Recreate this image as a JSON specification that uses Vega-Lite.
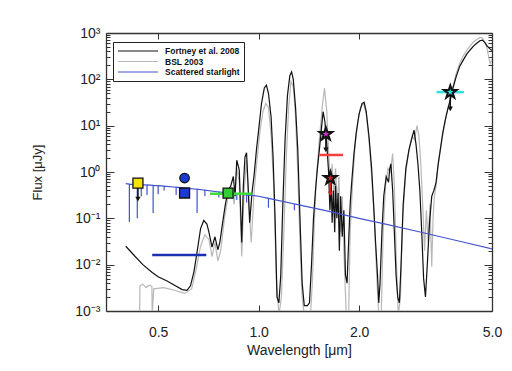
{
  "$schema": "https://vega.github.io/schema/vega-lite/v6.json",
  "width": 386,
  "height": 278,
  "autosize": {"type": "none"},
  "padding": {"left": 106, "top": 33, "right": 20, "bottom": 60},
  "background": "white",
  "config": {
    "font": "Liberation Sans",
    "view": {"stroke": null},
    "axis": {"domainColor": "#333333", "tickColor": "#333333", "labelColor": "#222222", "titleColor": "#222222", "grid": false, "domainWidth": 1.3, "tickWidth": 1, "labelFlush": false, "labelOverlap": false}
  },
  "datasets": {
    "lines": [
      {"s": "BSL 2003", "x": 0.440, "y": 0.0008}, {"s": "BSL 2003", "x": 0.441, "y": 0.0035}, {"s": "BSL 2003", "x": 0.45, "y": 0.0038}, {"s": "BSL 2003", "x": 0.46, "y": 0.0032}, {"s": "BSL 2003", "x": 0.47, "y": 0.0036}, {"s": "BSL 2003", "x": 0.479, "y": 0.0034}, {"s": "BSL 2003", "x": 0.48, "y": 0.0008}, {"s": "BSL 2003", "x": 0.485, "y": 0.003},
      {"s": "BSL 2003", "x": 0.52, "y": 0.0032}, {"s": "BSL 2003", "x": 0.56, "y": 0.0028}, {"s": "BSL 2003", "x": 0.60, "y": 0.0024}, {"s": "BSL 2003", "x": 0.63, "y": 0.003}, {"s": "BSL 2003", "x": 0.65, "y": 0.008}, {"s": "BSL 2003", "x": 0.67, "y": 0.025}, {"s": "BSL 2003", "x": 0.69, "y": 0.044}, {"s": "BSL 2003", "x": 0.71, "y": 0.035}, {"s": "BSL 2003", "x": 0.725, "y": 0.015}, {"s": "BSL 2003", "x": 0.74, "y": 0.03}, {"s": "BSL 2003", "x": 0.755, "y": 0.012}, {"s": "BSL 2003", "x": 0.77, "y": 0.02}, {"s": "BSL 2003", "x": 0.79, "y": 0.1}, {"s": "BSL 2003", "x": 0.81, "y": 0.3}, {"s": "BSL 2003", "x": 0.83, "y": 0.45}, {"s": "BSL 2003", "x": 0.845, "y": 0.2}, {"s": "BSL 2003", "x": 0.86, "y": 1.2}, {"s": "BSL 2003", "x": 0.875, "y": 0.6}, {"s": "BSL 2003", "x": 0.89, "y": 0.015}, {"s": "BSL 2003", "x": 0.905, "y": 0.4}, {"s": "BSL 2003", "x": 0.92, "y": 1.8}, {"s": "BSL 2003", "x": 0.935, "y": 0.2}, {"s": "BSL 2003", "x": 0.95, "y": 0.03}, {"s": "BSL 2003", "x": 0.97, "y": 0.4}, {"s": "BSL 2003", "x": 0.99, "y": 2},
      {"s": "BSL 2003", "x": 1.01, "y": 8}, {"s": "BSL 2003", "x": 1.03, "y": 20}, {"s": "BSL 2003", "x": 1.05, "y": 30}, {"s": "BSL 2003", "x": 1.07, "y": 25}, {"s": "BSL 2003", "x": 1.09, "y": 6}, {"s": "BSL 2003", "x": 1.11, "y": 0.5}, {"s": "BSL 2003", "x": 1.13, "y": 0.005}, {"s": "BSL 2003", "x": 1.15, "y": 0.0008}, {"s": "BSL 2003", "x": 1.17, "y": 0.002}, {"s": "BSL 2003", "x": 1.19, "y": 0.05}, {"s": "BSL 2003", "x": 1.21, "y": 2}, {"s": "BSL 2003", "x": 1.23, "y": 25}, {"s": "BSL 2003", "x": 1.25, "y": 90}, {"s": "BSL 2003", "x": 1.27, "y": 70}, {"s": "BSL 2003", "x": 1.29, "y": 15}, {"s": "BSL 2003", "x": 1.31, "y": 1}, {"s": "BSL 2003", "x": 1.33, "y": 0.03}, {"s": "BSL 2003", "x": 1.35, "y": 0.002}, {"s": "BSL 2003", "x": 1.37, "y": 0.0008}, {"s": "BSL 2003", "x": 1.43, "y": 0.0008}, {"s": "BSL 2003", "x": 1.45, "y": 0.005}, {"s": "BSL 2003", "x": 1.47, "y": 0.1}, {"s": "BSL 2003", "x": 1.49, "y": 0.8}, {"s": "BSL 2003", "x": 1.52, "y": 5}, {"s": "BSL 2003", "x": 1.55, "y": 25}, {"s": "BSL 2003", "x": 1.575, "y": 65}, {"s": "BSL 2003", "x": 1.60, "y": 20}, {"s": "BSL 2003", "x": 1.62, "y": 3}, {"s": "BSL 2003", "x": 1.64, "y": 0.5}, {"s": "BSL 2003", "x": 1.66, "y": 1.5}, {"s": "BSL 2003", "x": 1.68, "y": 0.3}, {"s": "BSL 2003", "x": 1.70, "y": 1.2}, {"s": "BSL 2003", "x": 1.72, "y": 0.2}, {"s": "BSL 2003", "x": 1.74, "y": 0.8}, {"s": "BSL 2003", "x": 1.76, "y": 0.05}, {"s": "BSL 2003", "x": 1.78, "y": 0.3}, {"s": "BSL 2003", "x": 1.80, "y": 0.02}, {"s": "BSL 2003", "x": 1.83, "y": 0.0008}, {"s": "BSL 2003", "x": 1.86, "y": 0.0008}, {"s": "BSL 2003", "x": 1.88, "y": 0.05}, {"s": "BSL 2003", "x": 1.91, "y": 0.5}, {"s": "BSL 2003", "x": 1.94, "y": 3}, {"s": "BSL 2003", "x": 1.98, "y": 12},
      {"s": "BSL 2003", "x": 2.02, "y": 25}, {"s": "BSL 2003", "x": 2.06, "y": 30}, {"s": "BSL 2003", "x": 2.10, "y": 18}, {"s": "BSL 2003", "x": 2.14, "y": 5}, {"s": "BSL 2003", "x": 2.18, "y": 0.8}, {"s": "BSL 2003", "x": 2.22, "y": 0.1}, {"s": "BSL 2003", "x": 2.26, "y": 0.005}, {"s": "BSL 2003", "x": 2.29, "y": 0.0008}, {"s": "BSL 2003", "x": 2.33, "y": 0.0008}, {"s": "BSL 2003", "x": 2.36, "y": 0.05}, {"s": "BSL 2003", "x": 2.40, "y": 0.5}, {"s": "BSL 2003", "x": 2.44, "y": 1.2}, {"s": "BSL 2003", "x": 2.48, "y": 1.0}, {"s": "BSL 2003", "x": 2.52, "y": 2.5}, {"s": "BSL 2003", "x": 2.55, "y": 0.5}, {"s": "BSL 2003", "x": 2.58, "y": 0.02}, {"s": "BSL 2003", "x": 2.62, "y": 0.0008}, {"s": "BSL 2003", "x": 2.66, "y": 0.002}, {"s": "BSL 2003", "x": 2.70, "y": 0.1}, {"s": "BSL 2003", "x": 2.76, "y": 1}, {"s": "BSL 2003", "x": 2.82, "y": 3}, {"s": "BSL 2003", "x": 2.88, "y": 6}, {"s": "BSL 2003", "x": 2.93, "y": 5}, {"s": "BSL 2003", "x": 2.98, "y": 10}, {"s": "BSL 2003", "x": 3.02, "y": 6}, {"s": "BSL 2003", "x": 3.06, "y": 1.5}, {"s": "BSL 2003", "x": 3.10, "y": 0.2}, {"s": "BSL 2003", "x": 3.14, "y": 0.02}, {"s": "BSL 2003", "x": 3.18, "y": 0.15}, {"s": "BSL 2003", "x": 3.22, "y": 0.03}, {"s": "BSL 2003", "x": 3.26, "y": 0.2}, {"s": "BSL 2003", "x": 3.30, "y": 0.009}, {"s": "BSL 2003", "x": 3.33, "y": 0.1}, {"s": "BSL 2003", "x": 3.36, "y": 0.3}, {"s": "BSL 2003", "x": 3.40, "y": 0.5}, {"s": "BSL 2003", "x": 3.44, "y": 1.2}, {"s": "BSL 2003", "x": 3.50, "y": 3}, {"s": "BSL 2003", "x": 3.58, "y": 8}, {"s": "BSL 2003", "x": 3.66, "y": 18}, {"s": "BSL 2003", "x": 3.74, "y": 35}, {"s": "BSL 2003", "x": 3.82, "y": 70}, {"s": "BSL 2003", "x": 3.90, "y": 130}, {"s": "BSL 2003", "x": 4.00, "y": 220}, {"s": "BSL 2003", "x": 4.10, "y": 320}, {"s": "BSL 2003", "x": 4.20, "y": 420}, {"s": "BSL 2003", "x": 4.30, "y": 530}, {"s": "BSL 2003", "x": 4.40, "y": 640}, {"s": "BSL 2003", "x": 4.50, "y": 720}, {"s": "BSL 2003", "x": 4.60, "y": 800}, {"s": "BSL 2003", "x": 4.68, "y": 780}, {"s": "BSL 2003", "x": 4.75, "y": 650}, {"s": "BSL 2003", "x": 4.82, "y": 500}, {"s": "BSL 2003", "x": 4.88, "y": 320}, {"s": "BSL 2003", "x": 4.94, "y": 220}, {"s": "BSL 2003", "x": 5.00, "y": 260},

      {"s": "Fortney et al. 2008", "x": 0.400, "y": 0.025}, {"s": "Fortney et al. 2008", "x": 0.42, "y": 0.017}, {"s": "Fortney et al. 2008", "x": 0.45, "y": 0.010}, {"s": "Fortney et al. 2008", "x": 0.48, "y": 0.0068}, {"s": "Fortney et al. 2008", "x": 0.50, "y": 0.0055}, {"s": "Fortney et al. 2008", "x": 0.53, "y": 0.0045}, {"s": "Fortney et al. 2008", "x": 0.56, "y": 0.0036}, {"s": "Fortney et al. 2008", "x": 0.59, "y": 0.0029}, {"s": "Fortney et al. 2008", "x": 0.61, "y": 0.0028}, {"s": "Fortney et al. 2008", "x": 0.625, "y": 0.0035}, {"s": "Fortney et al. 2008", "x": 0.64, "y": 0.007}, {"s": "Fortney et al. 2008", "x": 0.655, "y": 0.02}, {"s": "Fortney et al. 2008", "x": 0.67, "y": 0.06}, {"s": "Fortney et al. 2008", "x": 0.685, "y": 0.09}, {"s": "Fortney et al. 2008", "x": 0.70, "y": 0.075}, {"s": "Fortney et al. 2008", "x": 0.71, "y": 0.05}, {"s": "Fortney et al. 2008", "x": 0.725, "y": 0.024}, {"s": "Fortney et al. 2008", "x": 0.74, "y": 0.04}, {"s": "Fortney et al. 2008", "x": 0.755, "y": 0.021}, {"s": "Fortney et al. 2008", "x": 0.765, "y": 0.03}, {"s": "Fortney et al. 2008", "x": 0.78, "y": 0.08}, {"s": "Fortney et al. 2008", "x": 0.795, "y": 0.2}, {"s": "Fortney et al. 2008", "x": 0.81, "y": 0.4}, {"s": "Fortney et al. 2008", "x": 0.825, "y": 0.5}, {"s": "Fortney et al. 2008", "x": 0.84, "y": 0.8}, {"s": "Fortney et al. 2008", "x": 0.85, "y": 0.3}, {"s": "Fortney et al. 2008", "x": 0.86, "y": 1.8}, {"s": "Fortney et al. 2008", "x": 0.875, "y": 1.1}, {"s": "Fortney et al. 2008", "x": 0.89, "y": 0.03}, {"s": "Fortney et al. 2008", "x": 0.90, "y": 0.5}, {"s": "Fortney et al. 2008", "x": 0.91, "y": 2.1}, {"s": "Fortney et al. 2008", "x": 0.92, "y": 2.6}, {"s": "Fortney et al. 2008", "x": 0.93, "y": 0.5}, {"s": "Fortney et al. 2008", "x": 0.94, "y": 0.08}, {"s": "Fortney et al. 2008", "x": 0.955, "y": 0.35}, {"s": "Fortney et al. 2008", "x": 0.97, "y": 0.9}, {"s": "Fortney et al. 2008", "x": 0.985, "y": 3},
      {"s": "Fortney et al. 2008", "x": 1.00, "y": 8}, {"s": "Fortney et al. 2008", "x": 1.02, "y": 30}, {"s": "Fortney et al. 2008", "x": 1.04, "y": 65}, {"s": "Fortney et al. 2008", "x": 1.055, "y": 75}, {"s": "Fortney et al. 2008", "x": 1.07, "y": 50}, {"s": "Fortney et al. 2008", "x": 1.09, "y": 15}, {"s": "Fortney et al. 2008", "x": 1.105, "y": 2}, {"s": "Fortney et al. 2008", "x": 1.12, "y": 0.1}, {"s": "Fortney et al. 2008", "x": 1.135, "y": 0.002}, {"s": "Fortney et al. 2008", "x": 1.15, "y": 0.0015}, {"s": "Fortney et al. 2008", "x": 1.165, "y": 0.006}, {"s": "Fortney et al. 2008", "x": 1.18, "y": 0.15}, {"s": "Fortney et al. 2008", "x": 1.20, "y": 5}, {"s": "Fortney et al. 2008", "x": 1.22, "y": 45}, {"s": "Fortney et al. 2008", "x": 1.24, "y": 120}, {"s": "Fortney et al. 2008", "x": 1.255, "y": 145}, {"s": "Fortney et al. 2008", "x": 1.27, "y": 100}, {"s": "Fortney et al. 2008", "x": 1.29, "y": 25}, {"s": "Fortney et al. 2008", "x": 1.31, "y": 3}, {"s": "Fortney et al. 2008", "x": 1.33, "y": 0.1}, {"s": "Fortney et al. 2008", "x": 1.35, "y": 0.004}, {"s": "Fortney et al. 2008", "x": 1.37, "y": 0.0013}, {"s": "Fortney et al. 2008", "x": 1.40, "y": 0.0013}, {"s": "Fortney et al. 2008", "x": 1.42, "y": 0.0015}, {"s": "Fortney et al. 2008", "x": 1.44, "y": 0.01}, {"s": "Fortney et al. 2008", "x": 1.46, "y": 0.1}, {"s": "Fortney et al. 2008", "x": 1.48, "y": 0.4}, {"s": "Fortney et al. 2008", "x": 1.50, "y": 1.2}, {"s": "Fortney et al. 2008", "x": 1.52, "y": 3}, {"s": "Fortney et al. 2008", "x": 1.54, "y": 8}, {"s": "Fortney et al. 2008", "x": 1.56, "y": 20}, {"s": "Fortney et al. 2008", "x": 1.58, "y": 12}, {"s": "Fortney et al. 2008", "x": 1.60, "y": 4}, {"s": "Fortney et al. 2008", "x": 1.62, "y": 1}, {"s": "Fortney et al. 2008", "x": 1.635, "y": 0.15}, {"s": "Fortney et al. 2008", "x": 1.65, "y": 0.6}, {"s": "Fortney et al. 2008", "x": 1.66, "y": 0.08}, {"s": "Fortney et al. 2008", "x": 1.675, "y": 0.4}, {"s": "Fortney et al. 2008", "x": 1.69, "y": 0.05}, {"s": "Fortney et al. 2008", "x": 1.70, "y": 0.5}, {"s": "Fortney et al. 2008", "x": 1.715, "y": 0.1}, {"s": "Fortney et al. 2008", "x": 1.73, "y": 0.35}, {"s": "Fortney et al. 2008", "x": 1.745, "y": 0.02}, {"s": "Fortney et al. 2008", "x": 1.76, "y": 0.3}, {"s": "Fortney et al. 2008", "x": 1.78, "y": 0.04}, {"s": "Fortney et al. 2008", "x": 1.80, "y": 0.15}, {"s": "Fortney et al. 2008", "x": 1.82, "y": 0.006}, {"s": "Fortney et al. 2008", "x": 1.84, "y": 0.004}, {"s": "Fortney et al. 2008", "x": 1.86, "y": 0.03}, {"s": "Fortney et al. 2008", "x": 1.88, "y": 0.2}, {"s": "Fortney et al. 2008", "x": 1.90, "y": 0.6}, {"s": "Fortney et al. 2008", "x": 1.93, "y": 2.5}, {"s": "Fortney et al. 2008", "x": 1.96, "y": 7},
      {"s": "Fortney et al. 2008", "x": 2.00, "y": 18}, {"s": "Fortney et al. 2008", "x": 2.04, "y": 30}, {"s": "Fortney et al. 2008", "x": 2.07, "y": 32}, {"s": "Fortney et al. 2008", "x": 2.10, "y": 20}, {"s": "Fortney et al. 2008", "x": 2.14, "y": 6}, {"s": "Fortney et al. 2008", "x": 2.18, "y": 1.2}, {"s": "Fortney et al. 2008", "x": 2.21, "y": 0.2}, {"s": "Fortney et al. 2008", "x": 2.24, "y": 0.03}, {"s": "Fortney et al. 2008", "x": 2.27, "y": 0.006}, {"s": "Fortney et al. 2008", "x": 2.29, "y": 0.0015}, {"s": "Fortney et al. 2008", "x": 2.31, "y": 0.004}, {"s": "Fortney et al. 2008", "x": 2.34, "y": 0.05}, {"s": "Fortney et al. 2008", "x": 2.37, "y": 0.3}, {"s": "Fortney et al. 2008", "x": 2.41, "y": 0.8}, {"s": "Fortney et al. 2008", "x": 2.45, "y": 0.6}, {"s": "Fortney et al. 2008", "x": 2.47, "y": 1.2}, {"s": "Fortney et al. 2008", "x": 2.49, "y": 1.5}, {"s": "Fortney et al. 2008", "x": 2.52, "y": 0.4}, {"s": "Fortney et al. 2008", "x": 2.55, "y": 0.05}, {"s": "Fortney et al. 2008", "x": 2.58, "y": 0.006}, {"s": "Fortney et al. 2008", "x": 2.61, "y": 0.002}, {"s": "Fortney et al. 2008", "x": 2.64, "y": 0.0015}, {"s": "Fortney et al. 2008", "x": 2.67, "y": 0.01}, {"s": "Fortney et al. 2008", "x": 2.71, "y": 0.2}, {"s": "Fortney et al. 2008", "x": 2.76, "y": 1.2}, {"s": "Fortney et al. 2008", "x": 2.82, "y": 3}, {"s": "Fortney et al. 2008", "x": 2.87, "y": 5}, {"s": "Fortney et al. 2008", "x": 2.92, "y": 8}, {"s": "Fortney et al. 2008", "x": 2.96, "y": 4}, {"s": "Fortney et al. 2008", "x": 3.00, "y": 1.5}, {"s": "Fortney et al. 2008", "x": 3.04, "y": 0.4}, {"s": "Fortney et al. 2008", "x": 3.08, "y": 0.05}, {"s": "Fortney et al. 2008", "x": 3.12, "y": 0.005}, {"s": "Fortney et al. 2008", "x": 3.16, "y": 0.002}, {"s": "Fortney et al. 2008", "x": 3.20, "y": 0.01}, {"s": "Fortney et al. 2008", "x": 3.25, "y": 0.08}, {"s": "Fortney et al. 2008", "x": 3.30, "y": 0.3}, {"s": "Fortney et al. 2008", "x": 3.35, "y": 0.4}, {"s": "Fortney et al. 2008", "x": 3.40, "y": 0.6}, {"s": "Fortney et al. 2008", "x": 3.45, "y": 1.5}, {"s": "Fortney et al. 2008", "x": 3.50, "y": 3}, {"s": "Fortney et al. 2008", "x": 3.56, "y": 7}, {"s": "Fortney et al. 2008", "x": 3.62, "y": 13}, {"s": "Fortney et al. 2008", "x": 3.68, "y": 22}, {"s": "Fortney et al. 2008", "x": 3.75, "y": 36}, {"s": "Fortney et al. 2008", "x": 3.82, "y": 65}, {"s": "Fortney et al. 2008", "x": 3.90, "y": 110}, {"s": "Fortney et al. 2008", "x": 4.00, "y": 190}, {"s": "Fortney et al. 2008", "x": 4.10, "y": 260}, {"s": "Fortney et al. 2008", "x": 4.20, "y": 350}, {"s": "Fortney et al. 2008", "x": 4.30, "y": 430}, {"s": "Fortney et al. 2008", "x": 4.40, "y": 520}, {"s": "Fortney et al. 2008", "x": 4.50, "y": 600}, {"s": "Fortney et al. 2008", "x": 4.60, "y": 680}, {"s": "Fortney et al. 2008", "x": 4.68, "y": 700}, {"s": "Fortney et al. 2008", "x": 4.76, "y": 620}, {"s": "Fortney et al. 2008", "x": 4.84, "y": 520}, {"s": "Fortney et al. 2008", "x": 4.92, "y": 460}, {"s": "Fortney et al. 2008", "x": 5.00, "y": 420},

      {"s": "Scattered starlight", "x": 0.400, "y": 0.56}, {"s": "Scattered starlight", "x": 0.41, "y": 0.55}, {"s": "Scattered starlight", "x": 0.4101, "y": 0.083}, {"s": "Scattered starlight", "x": 0.4102, "y": 0.55}, {"s": "Scattered starlight", "x": 0.433, "y": 0.54}, {"s": "Scattered starlight", "x": 0.4331, "y": 0.10}, {"s": "Scattered starlight", "x": 0.4332, "y": 0.54}, {"s": "Scattered starlight", "x": 0.445, "y": 0.535}, {"s": "Scattered starlight", "x": 0.4451, "y": 0.3}, {"s": "Scattered starlight", "x": 0.4452, "y": 0.535}, {"s": "Scattered starlight", "x": 0.463, "y": 0.525}, {"s": "Scattered starlight", "x": 0.4631, "y": 0.32}, {"s": "Scattered starlight", "x": 0.4632, "y": 0.525}, {"s": "Scattered starlight", "x": 0.483, "y": 0.515}, {"s": "Scattered starlight", "x": 0.4831, "y": 0.13}, {"s": "Scattered starlight", "x": 0.4832, "y": 0.515}, {"s": "Scattered starlight", "x": 0.50, "y": 0.505}, {"s": "Scattered starlight", "x": 0.5001, "y": 0.33}, {"s": "Scattered starlight", "x": 0.5002, "y": 0.505}, {"s": "Scattered starlight", "x": 0.521, "y": 0.495}, {"s": "Scattered starlight", "x": 0.5211, "y": 0.40}, {"s": "Scattered starlight", "x": 0.5212, "y": 0.495}, {"s": "Scattered starlight", "x": 0.566, "y": 0.47}, {"s": "Scattered starlight", "x": 0.5661, "y": 0.32}, {"s": "Scattered starlight", "x": 0.5662, "y": 0.47}, {"s": "Scattered starlight", "x": 0.59, "y": 0.455}, {"s": "Scattered starlight", "x": 0.5901, "y": 0.36}, {"s": "Scattered starlight", "x": 0.5902, "y": 0.455}, {"s": "Scattered starlight", "x": 0.654, "y": 0.425}, {"s": "Scattered starlight", "x": 0.6541, "y": 0.13}, {"s": "Scattered starlight", "x": 0.6542, "y": 0.425}, {"s": "Scattered starlight", "x": 0.69, "y": 0.405}, {"s": "Scattered starlight", "x": 0.6901, "y": 0.3}, {"s": "Scattered starlight", "x": 0.6902, "y": 0.405}, {"s": "Scattered starlight", "x": 0.76, "y": 0.37}, {"s": "Scattered starlight", "x": 0.7601, "y": 0.28}, {"s": "Scattered starlight", "x": 0.7602, "y": 0.37}, {"s": "Scattered starlight", "x": 0.86, "y": 0.335}, {"s": "Scattered starlight", "x": 0.8601, "y": 0.25}, {"s": "Scattered starlight", "x": 0.8602, "y": 0.335}, {"s": "Scattered starlight", "x": 0.92, "y": 0.32}, {"s": "Scattered starlight", "x": 0.9201, "y": 0.22}, {"s": "Scattered starlight", "x": 0.9202, "y": 0.32}, {"s": "Scattered starlight", "x": 1.0, "y": 0.30}, {"s": "Scattered starlight", "x": 1.07, "y": 0.27}, {"s": "Scattered starlight", "x": 1.0701, "y": 0.17}, {"s": "Scattered starlight", "x": 1.0702, "y": 0.27}, {"s": "Scattered starlight", "x": 1.28, "y": 0.205}, {"s": "Scattered starlight", "x": 1.2801, "y": 0.15}, {"s": "Scattered starlight", "x": 1.2802, "y": 0.205}, {"s": "Scattered starlight", "x": 1.3, "y": 0.20}, {"s": "Scattered starlight", "x": 1.6, "y": 0.145}, {"s": "Scattered starlight", "x": 2.0, "y": 0.10}, {"s": "Scattered starlight", "x": 2.4, "y": 0.075}, {"s": "Scattered starlight", "x": 3.0, "y": 0.052}, {"s": "Scattered starlight", "x": 4.0, "y": 0.032}, {"s": "Scattered starlight", "x": 5.0, "y": 0.022}
    ],
    "bars": [
      {"name": "blue limit", "x": 0.48, "x2": 0.697, "y": 0.0161},
      {"name": "green", "x": 0.715, "x2": 0.954, "y": 0.34},
      {"name": "red limit", "x": 1.52, "x2": 1.79, "y": 2.33},
      {"name": "cyan", "x": 3.41, "x2": 4.12, "y": 53}
    ],
    "arrows": [
      {"name": "yellow", "x": 0.435, "y": 0.578, "y2": 0.26},
      {"name": "magenta", "x": 1.59, "y": 6.6, "y2": 3.0},
      {"name": "red", "x": 1.64, "y": 0.74, "y2": 0.34},
      {"name": "cyan", "x": 3.75, "y": 53, "y2": 23}
    ],
    "squares": [
      {"name": "yellow", "x": 0.435, "y": 0.578},
      {"name": "blue", "x": 0.60, "y": 0.352},
      {"name": "green", "x": 0.81, "y": 0.35}
    ],
    "circles": [
      {"name": "blue", "x": 0.60, "y": 0.74}
    ],
    "stars": [
      {"name": "magenta", "x": 1.59, "y": 6.6},
      {"name": "red", "x": 1.64, "y": 0.74},
      {"name": "cyan", "x": 3.75, "y": 53}
    ]
  },
  "layer": [
    {
      "data": {"name": "lines"},
      "mark": {"type": "line", "clip": true, "strokeWidth": 1.2},
      "encoding": {
        "x": {"field": "x", "type": "quantitative", "scale": {"type": "log", "domain": [0.349, 5.0], "nice": false},
          "axis": {"orient": "bottom", "values": [0.5, 1, 2, 5], "labelExpr": "format(datum.value, '.1f')", "tickSize": -6, "labelPadding": 20, "labelFontSize": 14, "title": "Wavelength [μm]", "titleFontSize": 14, "titleFontWeight": "normal", "titlePadding": 4}},
        "y": {"field": "y", "type": "quantitative", "scale": {"type": "log", "domain": [0.001, 1000], "nice": false},
          "axis": {"orient": "left", "values": [0.001, 0.01, 0.1, 1, 10, 100, 1000], "labelExpr": "'10' + ['⁻³','⁻²','⁻¹','⁰','¹','²','³'][round(log(datum.value)/LN10)+3]", "tickSize": -8, "labelPadding": 14, "labelFontSize": 14, "title": "Flux [μJy]", "titleFontSize": 13, "titleFontWeight": "normal", "titlePadding": 30}},
        "color": {"field": "s", "type": "nominal",
          "scale": {"domain": ["Fortney et al. 2008", "BSL 2003", "Scattered starlight"], "range": ["#111111", "#b8b8b8", "#4455cc"]},
          "legend": {"orient": "none", "legendX": 7, "legendY": 9, "title": null, "symbolType": "M-1,0H9", "symbolSize": 64, "symbolStrokeWidth": 1.2, "labelFontSize": 8.5, "labelFontWeight": "bold", "labelAlign": "left", "labelColor": "#111111", "strokeColor": "#222222", "fillColor": "white", "padding": 4, "rowPadding": 0.5, "labelOffset": 38}}
      }
    },
    {
      "data": {"name": "bars"},
      "mark": {"type": "rule", "strokeWidth": 2.5},
      "encoding": {
        "x": {"field": "x", "type": "quantitative", "scale": {"type": "log", "domain": [0.349, 5.0], "nice": false},
          "axis": {"orient": "top", "values": [0.5, 1, 2, 5], "labels": false, "tickSize": -6, "title": null}},
        "x2": {"field": "x2"},
        "y": {"field": "y", "type": "quantitative", "scale": {"type": "log", "domain": [0.001, 1000], "nice": false},
          "axis": {"orient": "right", "values": [0.001, 0.01, 0.1, 1, 10, 100, 1000], "labels": false, "tickSize": -8, "title": null}},
        "stroke": {"field": "name", "type": "nominal", "scale": {"domain": ["blue limit", "green", "red limit", "cyan"], "range": ["#1a30b0", "#3ddd3d", "#f04040", "#30e0e0"]}, "legend": null}
      }
    },
    {
      "data": {"name": "arrows"},
      "mark": {"type": "rule", "strokeWidth": 1.5},
      "encoding": {
        "x": {"field": "x", "type": "quantitative", "scale": {"type": "log", "domain": [0.349, 5.0], "nice": false}, "axis": null},
        "y": {"field": "y", "type": "quantitative", "scale": {"type": "log", "domain": [0.001, 1000], "nice": false},
          "axis": {"orient": "left", "values": [0.002,0.003,0.004,0.005,0.006,0.007,0.008,0.009,0.02,0.03,0.04,0.05,0.06,0.07,0.08,0.09,0.2,0.3,0.4,0.5,0.6,0.7,0.8,0.9,2,3,4,5,6,7,8,9,20,30,40,50,60,70,80,90,200,300,400,500,600,700,800,900], "labels": false, "tickSize": -4, "domain": false, "title": null}},
        "y2": {"field": "y2"},
        "stroke": {"field": "name", "type": "nominal", "scale": {"domain": ["yellow", "magenta", "red", "cyan"], "range": ["#111111", "#111111", "#e02020", "#111111"]}, "legend": null}
      }
    },
    {
      "data": {"name": "arrows"},
      "mark": {"type": "point", "shape": "triangle-down", "filled": true, "size": 28, "opacity": 1},
      "encoding": {
        "x": {"field": "x", "type": "quantitative", "scale": {"type": "log", "domain": [0.349, 5.0], "nice": false}, "axis": null},
        "y": {"field": "y2", "type": "quantitative", "scale": {"type": "log", "domain": [0.001, 1000], "nice": false},
          "axis": {"orient": "right", "values": [0.002,0.003,0.004,0.005,0.006,0.007,0.008,0.009,0.02,0.03,0.04,0.05,0.06,0.07,0.08,0.09,0.2,0.3,0.4,0.5,0.6,0.7,0.8,0.9,2,3,4,5,6,7,8,9,20,30,40,50,60,70,80,90,200,300,400,500,600,700,800,900], "labels": false, "tickSize": -4, "domain": false, "title": null}},
        "fill": {"field": "name", "type": "nominal", "scale": {"domain": ["yellow", "magenta", "red", "cyan"], "range": ["#111111", "#111111", "#e02020", "#111111"]}, "legend": null}
      }
    },
    {
      "data": {"name": "squares"},
      "mark": {"type": "point", "shape": "square", "filled": true, "size": 100, "stroke": "#111111", "strokeWidth": 1.3, "opacity": 1},
      "encoding": {
        "x": {"field": "x", "type": "quantitative", "scale": {"type": "log", "domain": [0.349, 5.0], "nice": false}, "axis": null},
        "y": {"field": "y", "type": "quantitative", "scale": {"type": "log", "domain": [0.001, 1000], "nice": false}, "axis": null},
        "fill": {"field": "name", "type": "nominal", "scale": {"domain": ["yellow", "blue", "green"], "range": ["#f5e400", "#1a3ad0", "#33cc33"]}, "legend": null}
      }
    },
    {
      "data": {"name": "circles"},
      "mark": {"type": "point", "shape": "circle", "filled": true, "size": 90, "stroke": "#111111", "strokeWidth": 1.3, "opacity": 1},
      "encoding": {
        "x": {"field": "x", "type": "quantitative", "scale": {"type": "log", "domain": [0.349, 5.0], "nice": false}, "axis": null},
        "y": {"field": "y", "type": "quantitative", "scale": {"type": "log", "domain": [0.001, 1000], "nice": false}, "axis": null},
        "fill": {"field": "name", "type": "nominal", "scale": {"domain": ["blue"], "range": ["#1a3ad0"]}, "legend": null}
      }
    },
    {
      "data": {"name": "stars"},
      "mark": {"type": "point", "shape": "M0,-1L0.2245,-0.309L0.951,-0.309L0.363,0.118L0.588,0.809L0,0.382L-0.588,0.809L-0.363,0.118L-0.951,-0.309L-0.2245,-0.309Z", "filled": true, "size": 180, "stroke": "#111111", "strokeWidth": 2, "opacity": 1},
      "encoding": {
        "x": {"field": "x", "type": "quantitative", "scale": {"type": "log", "domain": [0.349, 5.0], "nice": false}, "axis": null},
        "y": {"field": "y", "type": "quantitative", "scale": {"type": "log", "domain": [0.001, 1000], "nice": false}, "axis": null},
        "fill": {"field": "name", "type": "nominal", "scale": {"domain": ["magenta", "red", "cyan"], "range": ["#e030e0", "#cc2020", "#30e0e0"]}, "legend": null}
      }
    }
  ],
  "resolve": {
    "axis": {"x": "independent", "y": "independent"},
    "scale": {"x": "independent", "y": "independent", "fill": "independent", "stroke": "independent"}
  }
}
